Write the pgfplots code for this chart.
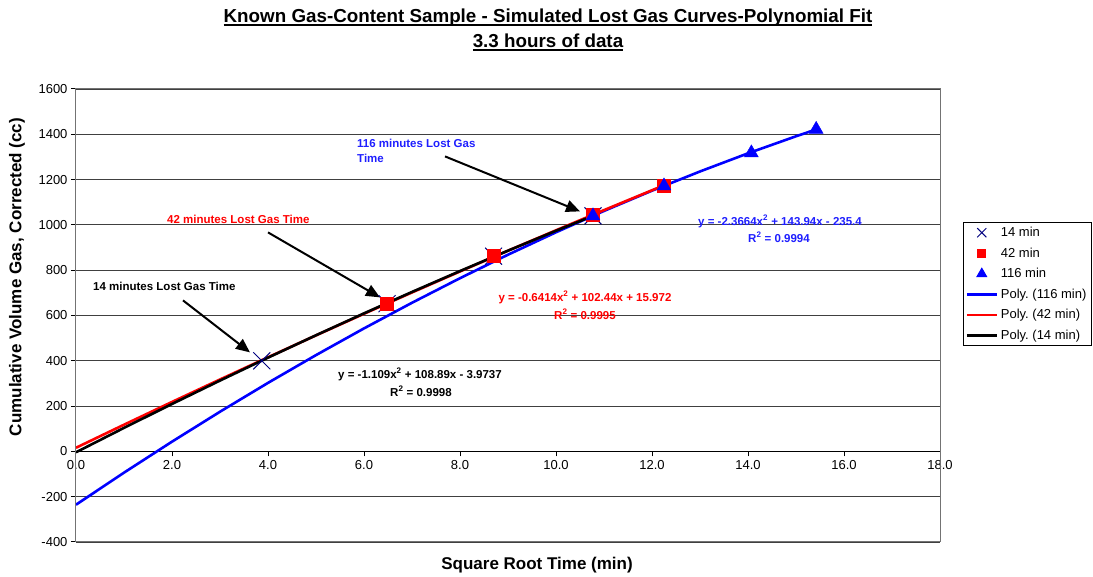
\documentclass[border=0pt]{standalone}
\usepackage{pgfplots}
\pgfplotsset{compat=1.18}
\usepackage{fontspec}
\setmainfont{Liberation Sans}
\newcommand\ul[1]{\setbox0\hbox{#1}\rlap{\rule[-3.5pt]{\wd0}{1.6pt}}\box0}
\usetikzlibrary{arrows.meta}
\definecolor{navyx}{RGB}{0,0,128}
\definecolor{cblue}{RGB}{0,0,255}
\definecolor{cred}{RGB}{255,0,0}
\definecolor{tblue}{RGB}{30,30,255}
\frenchspacing
\begin{document}
\frenchspacing
\begin{tikzpicture}
\begin{axis}[
  width=864pt, height=453pt, scale only axis, clip=false,
  xmin=0, xmax=18, ymin=-400, ymax=1600,
  xtick={0,2,...,18}, ytick={-400,-200,...,1600},
  axis x line=middle, axis y line=left,
  axis line style={-, line width=1pt, black},
  hide obscured x ticks=false, hide obscured y ticks=false,
  tick align=outside, major tick length=5pt,
  tick style={black, line width=1pt},
  ymajorgrids, y grid style={black!75, line width=0.9pt},
  tick label style={font=\fontsize{13}{15}\selectfont},
  /pgf/number format/assume math mode=true,
  /pgf/number format/1000 sep={},
  x tick label style={/pgf/number format/.cd, fixed, fixed zerofill, precision=1, /tikz/.cd},
  every axis x label/.style={at={(axis description cs:0.5336,-0.0508)}, anchor=center},
  every axis y label/.style={at={(axis description cs:-0.0683,0.585)}, anchor=center, rotate=90},
  xlabel={\bfseries\fontsize{17}{20}\selectfont Square Root Time (min)},
  ylabel={\bfseries\fontsize{17}{20}\selectfont Cumulative Volume Gas, Corrected (cc)},
  legend style={at={(axis description cs:1.0266,0.706)}, anchor=north west,
    draw=black, line width=1pt, font=\fontsize{13}{15}\selectfont,
    inner xsep=2pt, inner ysep=1.8pt, row sep=4pt,
    nodes={inner sep=2.8pt}},
  legend cell align=left,
  legend image code/.code={\draw[mark repeat=2,mark phase=2,#1] plot coordinates {(0pt,0pt) (15pt,0pt) (30pt,0pt)};},
]
\addplot[only marks, mark=x, mark size=12pt, color=navyx, mark options={line width=1pt},
  legend image post style={mark size=6.5pt}]
  coordinates {(3.87,400) (6.48,652) (8.70,862) (10.77,1040)};
\addlegendentry{14 min}
\addplot[only marks, mark=square*, mark size=6.5pt, color=cred,
  legend image post style={mark size=4pt}]
  coordinates {(6.48,652) (8.70,865) (10.77,1045) (12.25,1175)};
\addlegendentry{42 min}
\addplot[only marks, mark=triangle*, mark size=8pt, color=cblue,
  legend image post style={mark size=5.5pt}]
  coordinates {(10.77,1040) (12.25,1172) (14.07,1318) (15.42,1422)};
\addlegendentry{116 min}
\addplot[cblue, line width=2.6pt, no markers]
  coordinates {(0,-235.4) (1,-93.83) (2,43.01) (3,175.12) (4,302.50) (5,425.14) (6,543.05) (7,656.23) (8,764.67) (9,868.38) (10,967.36) (11,1061.61) (12,1151.12) (13,1235.90) (14,1315.95) (15,1391.26) (15.42,1421.46)};
\addlegendentry{Poly. (116 min)}
\addplot[cred, line width=2.6pt, no markers]
  coordinates {(0,15.97) (1,117.77) (2,218.29) (3,317.52) (4,415.47) (5,512.14) (6,607.52) (7,701.62) (8,794.44) (9,885.98) (10,976.23) (11,1065.20) (12,1152.89) (12.25,1174.61)};
\addlegendentry{Poly. (42 min)}
\addplot[black, line width=2.6pt, no markers]
  coordinates {(0,-3.97) (1,103.81) (2,209.37) (3,312.72) (4,413.84) (5,512.75) (6,609.44) (7,703.92) (8,796.17) (9,886.21) (10,974.03) (10.8,1042.69)};
\addlegendentry{Poly. (14 min)}

% annotations
\node[anchor=north west, align=left, inner sep=0pt, text=tblue, font=\bfseries\fontsize{11.5}{15}\selectfont] at (axis cs:5.854,1377.5) {116 minutes Lost Gas\\Time};
\draw[black, line width=2pt, -{Triangle[length=14pt, width=12pt]}] (axis cs:7.6875,1302.4) -- (axis cs:10.5,1059.6);
\node[anchor=west, inner sep=0pt, text=cred, font=\bfseries\fontsize{11.5}{15}\selectfont] at (axis cs:1.896,1024.3) {42 minutes Lost Gas Time};
\draw[black, line width=2pt, -{Triangle[length=14pt, width=12pt]}] (axis cs:4.0,966.9) -- (axis cs:6.333,679.9);
\node[anchor=west, inner sep=0pt, text=black, font=\bfseries\fontsize{11.5}{15}\selectfont] at (axis cs:0.354,728.5) {14 minutes Lost Gas Time};
\draw[black, line width=2pt, -{Triangle[length=14pt, width=12pt]}] (axis cs:2.229,666.7) -- (axis cs:3.625,437.1);

\node[inner sep=0pt, text=tblue, font=\bfseries\fontsize{11.5}{15}\selectfont] at (axis cs:14.667,1015.5) {y = -2.3664x\textsuperscript{2} + 143.94x - 235.4};
\node[inner sep=0pt, text=tblue, font=\bfseries\fontsize{11.5}{15}\selectfont] at (axis cs:14.646,944.8) {R\textsuperscript{2} = 0.9994};
\node[inner sep=0pt, text=cred, font=\bfseries\fontsize{11.5}{15}\selectfont] at (axis cs:10.604,679.9) {y = -0.6414x\textsuperscript{2} + 102.44x + 15.972};
\node[inner sep=0pt, text=cred, font=\bfseries\fontsize{11.5}{15}\selectfont] at (axis cs:10.604,604.9) {R\textsuperscript{2} = 0.9995};
\node[inner sep=0pt, text=black, font=\bfseries\fontsize{11.5}{15}\selectfont] at (axis cs:7.167,340) {y = -1.109x\textsuperscript{2} + 108.89x - 3.9737};
\node[inner sep=0pt, text=black, font=\bfseries\fontsize{11.5}{15}\selectfont] at (axis cs:7.1875,264.9) {R\textsuperscript{2} = 0.9998};

\draw[black!55, line width=1pt] (rel axis cs:0,0) rectangle (rel axis cs:1,1);
\node[align=center, font=\bfseries\fontsize{18.8}{25}\selectfont] at (axis description cs:0.5463,1.1314) {\ul{Known Gas-Content Sample - Simulated Lost Gas Curves-Polynomial Fit}\\\ul{3.3 hours of data}};
\end{axis}
\pgfresetboundingbox
\path[use as bounding box] ([shift={(-76pt,-35pt)}]current axis.south west) rectangle ([shift={(153pt,89pt)}]current axis.north east);
\end{tikzpicture}
\end{document}
